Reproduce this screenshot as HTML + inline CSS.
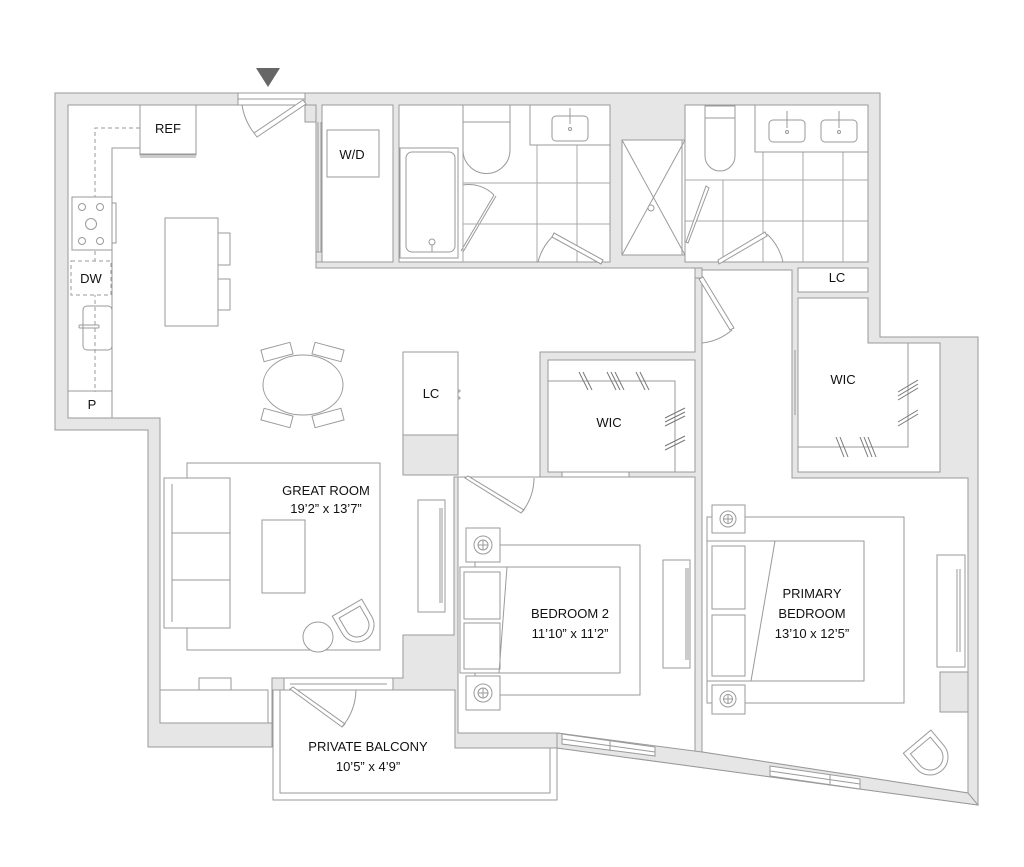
<!DOCTYPE html>
<html><head><meta charset="utf-8"><style>
html,body{margin:0;padding:0;background:#fff;}
svg{display:block;}
svg text{font-family:"Liberation Sans Narrow","Liberation Sans",sans-serif;font-size:13px;fill:#111;stroke:none;text-anchor:middle;}
</style></head><body>
<svg width="1024" height="867" viewBox="0 0 1024 867" xmlns="http://www.w3.org/2000/svg">
<g stroke="#9a9a9a" stroke-width="1" fill="none">
<polygon fill="#e6e6e6" points="55,93 880,93 880,337 978,337 978,805 557,748 455,748 455,690 272,690 272,747 148,747 148,430 55,430"/>
<polygon fill="#fff" points="273,690 455,690 455,748 557,748 557,800 273,800"/>
<polyline points="280,690 280,793 550,793 550,748"/>
<polygon fill="#fff" points="68,105 316,105 316,268 695,268 695,352 540,352 540,477 454,477 454,635 403,635 403,678 272,678 272,723 160,723 160,418 68,418"/>
<rect x="403" y="435" width="55" height="40" fill="#e6e6e6"/>
<rect x="322" y="105" width="71" height="157" fill="#fff"/>
<rect x="399" y="105" width="211" height="157" fill="#fff"/>
<rect x="622" y="140" width="63" height="115" fill="#fff"/>
<rect x="685" y="105" width="183" height="157" fill="#fff"/>
<rect x="548" y="360" width="147" height="112" fill="#fff"/>
<polygon fill="#fff" points="458,477 695,477 695,752 557,733 458,733"/>
<polygon fill="#fff" points="702,270 792,270 792,478 968,478 968,793 702,752"/>
<rect x="798" y="268" width="70" height="24" fill="#fff"/>
<polygon fill="#fff" points="798,298 868,298 868,343 940,343 940,472 798,472"/>
<polygon fill="#e6e6e6" points="557,733 702,752 968,793 978,805 557,748"/>
<polygon fill="#fff" points="562,734 655,747 655,756 562,744"/>
<polygon fill="#fff" points="770,766 860,779 860,789 770,776"/>
<line x1="610" y1="741" x2="610" y2="751"/><line x1="830" y1="775" x2="830" y2="785"/>
<line x1="562" y1="739" x2="655" y2="752"/><line x1="770" y1="771" x2="860" y2="784"/>

<polygon fill="#666" stroke="none" points="256,68 280,68 268,87"/>
<rect x="238" y="93" width="67" height="12" fill="#fff"/>
<line x1="238" y1="99" x2="305" y2="99"/>
<polygon fill="#fff" points="303,100 306,104 257,137 254,133"/>
<path d="M254,133 A60,60 0 0 1 242,105"/>
<rect x="305" y="105" width="11" height="17" fill="#e6e6e6"/>
<line x1="318" y1="122" x2="318" y2="252"/><line x1="321" y1="122" x2="321" y2="252"/>
<rect x="316" y="252" width="6" height="10" fill="#e6e6e6"/>
<rect x="327" y="130" width="52" height="47"/>
<text x="352" y="159">W/D</text>

<rect x="140" y="105" width="56" height="50" fill="#fff"/>
<line x1="140" y1="154" x2="196" y2="154"/><line x1="140" y1="157" x2="196" y2="157"/>
<text x="168" y="133">REF</text>
<polyline points="112,418 112,148 140,148"/>
<polyline stroke-dasharray="4,3" points="140,128 95,128 95,392"/>
<rect x="72" y="197" width="40" height="53" fill="#fff"/>
<rect x="112" y="203" width="4" height="40"/>
<circle cx="82" cy="207" r="3.5"/><circle cx="100" cy="207" r="3.5"/>
<circle cx="91" cy="224" r="5.5"/>
<circle cx="82" cy="241" r="3.5"/><circle cx="100" cy="241" r="3.5"/>
<rect x="71" y="261" width="40" height="34" stroke-dasharray="4,3" fill="#fff"/>
<text x="91" y="283">DW</text>
<rect x="83" y="306" width="29" height="44" rx="4"/>
<rect x="79" y="325" width="20" height="3" rx="1"/>
<line x1="68" y1="391" x2="112" y2="391"/>
<text x="92" y="409">P</text>
<rect x="165" y="218" width="53" height="108"/>
<rect x="218" y="233" width="12" height="32"/><rect x="218" y="279" width="12" height="31"/>
<ellipse cx="303" cy="385" rx="40" ry="30" fill="#fff"/>
<g transform="rotate(-15 277 352)"><rect x="262" y="346" width="30" height="12"/></g>
<g transform="rotate(15 328 352)"><rect x="313" y="346" width="30" height="12"/></g>
<g transform="rotate(15 277 418)"><rect x="262" y="412" width="30" height="12"/></g>
<g transform="rotate(-15 328 418)"><rect x="313" y="412" width="30" height="12"/></g>
<rect x="403" y="352" width="55" height="83" fill="#fff"/>
<text x="431" y="398">LC</text>
<circle cx="459" cy="391" r="1"/><circle cx="459" cy="398" r="1"/>

<rect x="187" y="463" width="193" height="187" fill="#fff"/>
<rect x="164" y="478" width="66" height="150" fill="#fff"/>
<line x1="172" y1="484" x2="172" y2="622"/>
<line x1="172" y1="533" x2="230" y2="533"/><line x1="172" y1="580" x2="230" y2="580"/>
<rect x="262" y="520" width="43" height="73" fill="#fff"/>
<rect x="418" y="500" width="27" height="112"/>
<line x1="440" y1="508" x2="440" y2="603"/><line x1="442" y1="508" x2="442" y2="603"/>
<circle cx="318" cy="637" r="15" fill="#fff"/>
<g transform="rotate(-30 357 625)"><path d="M340,605 h34 v20 a17,17 0 0 1 -34,0 z" fill="#fff"/><path d="M345,610 h24 v15 a12,12 0 0 1 -24,0 z"/></g>
<text x="326" y="495">GREAT ROOM</text>
<text x="326" y="513">19’2” x 13’7”</text>
<rect x="160" y="690" width="108" height="33" fill="#fff"/>
<rect x="199" y="678" width="32" height="12"/>
<rect x="284" y="678" width="109" height="12" fill="#fff"/>
<line x1="290" y1="684" x2="387" y2="684"/>
<polygon fill="#fff" points="290,689 293,687 345,724 342,727"/>
<path d="M342,727 A60,60 0 0 0 356,690"/>
<text x="368" y="751">PRIVATE BALCONY</text>
<text x="368" y="771">10’5” x 4’9”</text>

<rect x="400" y="148" width="58" height="110" fill="#fff"/>
<rect x="406" y="152" width="49" height="100" rx="6"/>
<circle cx="432" cy="242" r="3"/><line x1="432" y1="245" x2="432" y2="252"/>
<line x1="461" y1="251" x2="494" y2="195"/><line x1="463" y1="252" x2="496" y2="196"/>
<path d="M463,185 A35,35 0 0 1 494,195"/>
<g stroke="#aaa"><line x1="537" y1="145" x2="537" y2="262"/><line x1="577" y1="145" x2="577" y2="262"/>
<line x1="463" y1="183" x2="610" y2="183"/><line x1="463" y1="224" x2="610" y2="224"/>
<line x1="463" y1="105" x2="463" y2="262"/></g>
<path d="M463,105 h47 v45 a23,23 0 0 1 -47,0 z" fill="#fff"/><line x1="463" y1="122" x2="510" y2="122"/>
<rect x="530" y="105" width="80" height="40" fill="#fff"/>
<rect x="552" y="116" width="36" height="25" rx="4"/><line x1="570" y1="108" x2="570" y2="124"/><circle cx="570" cy="129" r="1.5"/>
<line x1="536" y1="262" x2="604" y2="262"/>
<polygon fill="#fff" points="603,260 601,264 552,237 554,233"/>
<path d="M552,237 A55,55 0 0 0 538,262"/>
<line x1="622" y1="140" x2="685" y2="255"/><line x1="685" y1="140" x2="622" y2="255"/>
<circle cx="651" cy="208" r="3" fill="#fff"/>
<line x1="682" y1="140" x2="682" y2="255"/>
<g stroke="#aaa"><line x1="723" y1="180" x2="723" y2="262"/><line x1="763" y1="152" x2="763" y2="262"/><line x1="803" y1="152" x2="803" y2="262"/><line x1="843" y1="152" x2="843" y2="262"/>
<line x1="685" y1="180" x2="868" y2="180"/><line x1="685" y1="221" x2="868" y2="221"/></g>
<path d="M705,106 h30 v50 a15,15 0 0 1 -30,0 z" fill="#fff"/><line x1="705" y1="118" x2="735" y2="118"/>
<rect x="755" y="105" width="113" height="47" fill="#fff"/>
<rect x="769" y="120" width="36" height="22" rx="4"/><line x1="787" y1="111" x2="787" y2="128"/><circle cx="787" cy="132" r="1.5"/>
<rect x="821" y="120" width="36" height="22" rx="4"/><line x1="839" y1="111" x2="839" y2="128"/><circle cx="839" cy="132" r="1.5"/>
<polygon fill="#fff" points="686,242 688,243 709,188 706,186"/>
<line x1="715" y1="262" x2="783" y2="262"/>
<polygon fill="#fff" points="718,260 719,264 767,236 765,232"/>
<path d="M767,234 A55,55 0 0 1 783,262"/>
<rect x="695" y="268" width="7" height="10" fill="#e6e6e6"/>
<polygon fill="#fff" points="699,279 703,277 734,328 730,330"/>
<path d="M732,330 A55,55 0 0 1 702,343"/>
<text x="837" y="282">LC</text>
<polyline points="908,343 908,447 798,447"/>
<line x1="795" y1="350" x2="795" y2="415"/>
<text x="843" y="384">WIC</text>
<g stroke="#777"><line x1="898" y1="392" x2="918" y2="380"/><line x1="898" y1="396" x2="918" y2="384"/><line x1="898" y1="400" x2="918" y2="388"/>
<line x1="898" y1="422" x2="918" y2="410"/><line x1="898" y1="426" x2="918" y2="414"/>
<line x1="836" y1="437" x2="844" y2="457"/><line x1="840" y1="437" x2="848" y2="457"/>
<line x1="860" y1="437" x2="868" y2="457"/><line x1="864" y1="437" x2="872" y2="457"/><line x1="868" y1="437" x2="876" y2="457"/></g>
<polyline points="548,381 675,381 675,472"/>
<text x="609" y="427">WIC</text>
<g stroke="#777"><line x1="579" y1="372" x2="588" y2="390"/><line x1="583" y1="372" x2="592" y2="390"/>
<line x1="607" y1="372" x2="616" y2="390"/><line x1="611" y1="372" x2="620" y2="390"/><line x1="615" y1="372" x2="624" y2="390"/>
<line x1="636" y1="372" x2="645" y2="390"/><line x1="640" y1="372" x2="649" y2="390"/>
<line x1="665" y1="418" x2="685" y2="408"/><line x1="665" y1="422" x2="685" y2="412"/><line x1="665" y1="426" x2="685" y2="416"/>
<line x1="665" y1="446" x2="685" y2="436"/><line x1="665" y1="450" x2="685" y2="440"/></g>
<rect x="562" y="472" width="67" height="5" fill="#fff"/>
<polygon fill="#fff" points="465,478 468,476 524,510 521,513"/>
<path d="M522,512 A55,55 0 0 0 534,478"/>
<rect x="475" y="545" width="165" height="150" fill="#fff"/>
<rect x="460" y="567" width="160" height="106" fill="#fff"/>
<rect x="464" y="572" width="36" height="47"/><rect x="464" y="623" width="36" height="46"/>
<line x1="507" y1="567" x2="499" y2="673"/>
<rect x="466" y="528" width="34" height="34" fill="#fff"/><circle cx="483" cy="545" r="9"/><circle cx="483" cy="545" r="5"/><line x1="478" y1="545" x2="488" y2="545"/><line x1="483" y1="540" x2="483" y2="550"/>
<rect x="466" y="676" width="34" height="34" fill="#fff"/><circle cx="483" cy="693" r="9"/><circle cx="483" cy="693" r="5"/><line x1="478" y1="693" x2="488" y2="693"/><line x1="483" y1="688" x2="483" y2="698"/>
<rect x="663" y="560" width="27" height="108"/><line x1="686" y1="568" x2="686" y2="660"/><line x1="688" y1="568" x2="688" y2="660"/>
<text x="570" y="618">BEDROOM 2</text>
<text x="570" y="638">11’10” x 11’2”</text>
<rect x="707" y="517" width="197" height="186" fill="#fff"/>
<rect x="707" y="541" width="157" height="140" fill="#fff"/>
<rect x="712" y="546" width="33" height="63"/><rect x="712" y="615" width="33" height="61"/>
<line x1="775" y1="541" x2="751" y2="681"/>
<rect x="712" y="505" width="33" height="28" fill="#fff"/><circle cx="728" cy="519" r="8"/><circle cx="728" cy="519" r="4.5"/><line x1="723" y1="519" x2="733" y2="519"/><line x1="728" y1="514" x2="728" y2="524"/>
<rect x="712" y="685" width="33" height="29" fill="#fff"/><circle cx="728" cy="699" r="8"/><circle cx="728" cy="699" r="4.5"/><line x1="723" y1="699" x2="733" y2="699"/><line x1="728" y1="694" x2="728" y2="704"/>
<rect x="937" y="555" width="28" height="112"/><line x1="957" y1="569" x2="957" y2="652"/><line x1="960" y1="569" x2="960" y2="652"/>
<rect x="940" y="672" width="28" height="40" fill="#e6e6e6"/>
<g transform="rotate(-40 930 757)"><path d="M912,737 h36 v20 a18,18 0 0 1 -36,0 z" fill="#fff"/><path d="M917,742 h26 v15 a13,13 0 0 1 -26,0 z"/></g>
<text x="812" y="598">PRIMARY</text>
<text x="812" y="618">BEDROOM</text>
<text x="812" y="638">13’10 x 12’5”</text>
</g>
</svg>
</body></html>
